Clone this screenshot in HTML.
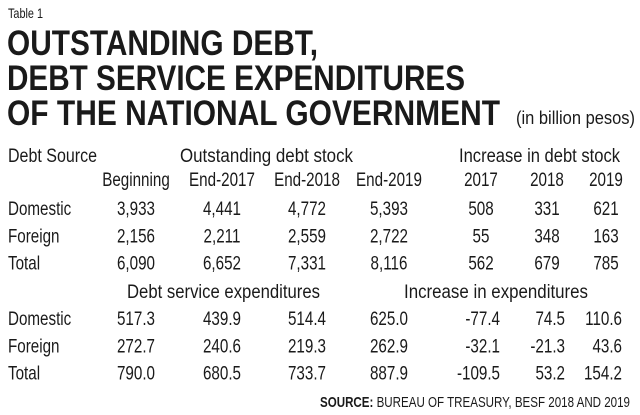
<!DOCTYPE html>
<html><head><meta charset="utf-8"><style>
html,body{margin:0;padding:0;background:#fff;}
svg{display:block;}
text{font-family:"Liberation Sans Narrow","Liberation Sans",sans-serif;fill:#1a1a1a;}
.b{font-weight:bold;}
</style></head><body>
<svg id="t" width="640" height="415" viewBox="0 0 640 415">
<text x="8" y="18" font-size="14" textLength="35" lengthAdjust="spacingAndGlyphs">Table 1</text>
<text class="b" x="7" y="55" font-size="35" textLength="311" lengthAdjust="spacingAndGlyphs">OUTSTANDING DEBT,</text>
<text class="b" x="7" y="90" font-size="35" textLength="458" lengthAdjust="spacingAndGlyphs">DEBT SERVICE EXPENDITURES</text>
<text class="b" x="7" y="125" font-size="35" textLength="493" lengthAdjust="spacingAndGlyphs">OF THE NATIONAL GOVERNMENT</text>
<text x="516" y="124" font-size="18" textLength="119" lengthAdjust="spacingAndGlyphs">(in billion pesos)</text>
<text x="8" y="162" font-size="19" textLength="89" lengthAdjust="spacingAndGlyphs">Debt Source</text>
<text x="180" y="162" font-size="19" textLength="173" lengthAdjust="spacingAndGlyphs">Outstanding debt stock</text>
<text x="459" y="162" font-size="19" textLength="161" lengthAdjust="spacingAndGlyphs">Increase in debt stock</text>
<text x="127" y="298" font-size="19" textLength="193" lengthAdjust="spacingAndGlyphs">Debt service expenditures</text>
<text x="404" y="298" font-size="19" textLength="184" lengthAdjust="spacingAndGlyphs">Increase in expenditures</text>
<text x="320" y="407" font-size="15" textLength="310" lengthAdjust="spacingAndGlyphs"><tspan class="b">SOURCE:</tspan> BUREAU OF TREASURY, BESF 2018 AND 2019</text>
<g id="cells" transform="scale(0.8,1)"></g>
</svg>
<script>
const colHeads=["Beginning","End-2017","End-2018","End-2019","2017","2018","2019"];
const rowLabels=["Domestic","Foreign","Total"];
const stockVals=[["3,933","4,441","4,772","5,393","508","331","621"],["2,156","2,211","2,559","2,722","55","348","163"],["6,090","6,652","7,331","8,116","562","679","785"]];
const expVals=[["517.3","439.9","514.4","625.0","-77.4","74.5","110.6"],["272.7","240.6","219.3","262.9","-32.1","-21.3","43.6"],["790.0","680.5","733.7","887.9","-109.5","53.2","154.2"]];
const colX=[136,222,307,389,481,547,606];
const g=document.getElementById('cells');
const NS='http://www.w3.org/2000/svg';
const SX=0.8;
function txt(x,y,s,anchor,name){const t=document.createElementNS(NS,'text');t.setAttribute('x',x/SX);t.setAttribute('y',y);t.setAttribute('font-size','19');t.setAttribute('text-anchor',anchor);t.textContent=s;


g.appendChild(t);return t;}
colHeads.forEach((h,i)=>{txt(colX[i],186,h,'middle','col-header');});
function block(vals,y0,prefix){vals.forEach((r,ri)=>{const y=y0+ri*27.3;txt(8,y,rowLabels[ri],'start',prefix+'-row-label');r.forEach((v,ci)=>{
if(prefix==='exp'&&ci>=4){txt([0,0,0,0,500,565,622][ci],y,v,'end',prefix+'-cell');}
else txt(colX[ci],y,v,'middle',prefix+'-cell');});});}
block(stockVals,215,'stock');
block(expVals,325,'exp');
</script>
</body></html>
